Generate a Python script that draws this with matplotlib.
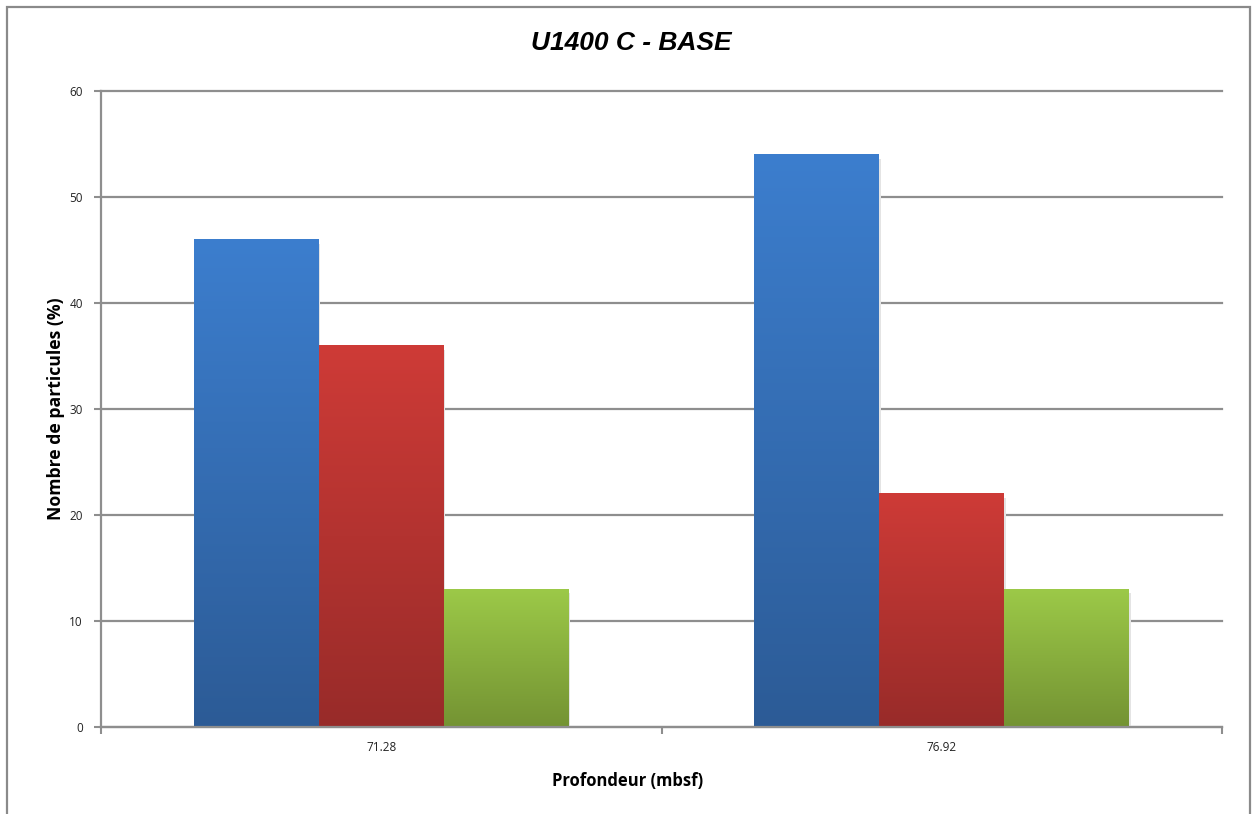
import numpy as np
import matplotlib.pyplot as plt
from matplotlib.patches import Rectangle
from matplotlib.colors import LinearSegmentedColormap

depths = ['71.28', '76.92']
serie_bleue = [46, 54]
serie_rouge = [36, 22]
serie_verte = [13, 13]

# gradient colours (top, bottom) for each series
grad_bleu = ('#3C7ECE', '#2C5B96')
grad_rouge = ('#CE3B37', '#982B29')
grad_vert = ('#9CC948', '#749333')

fig = plt.figure(figsize=(12.52, 8.14), dpi=100)
ax = fig.add_axes([101/1252, 1-727/814, 1121/1252, 636/814])

x = np.arange(len(depths))
w = 0.223
grid_col = '#8E8E8E'

ax.set_xlim(-0.5, 1.5)
ax.set_ylim(0, 60)
ax.set_yticks(range(0, 61, 10))
ax.yaxis.grid(True, color=grid_col, linewidth=1.6)
ax.set_axisbelow(True)

for off, vals, grad in [(-w, serie_bleue, grad_bleu), (0, serie_rouge, grad_rouge), (w, serie_verte, grad_vert)]:
    bars = ax.bar(x + off, vals, width=w, color=grad[1], zorder=2, linewidth=0)
    cmap = LinearSegmentedColormap.from_list('g', [grad[1], grad[0]])
    for b in bars:
        x0, y0 = b.get_x(), b.get_y()
        x1, y1 = x0 + b.get_width(), y0 + b.get_height()
        # soft shadow
        ax.add_patch(Rectangle((x1, y0), 0.003, b.get_height() - 0.4, color='#e4e4e4', zorder=1.5, linewidth=0))
        grad_img = np.linspace(0, 1, 256).reshape(-1, 1)
        ax.imshow(grad_img, cmap=cmap, origin='lower', extent=[x0, x1, y0, y1],
                  aspect='auto', zorder=2.5, interpolation='bicubic')

ax.set_xlim(-0.5, 1.5)
ax.set_ylim(0, 60)
for gl in ax.yaxis.get_gridlines():
    gl.set_clip_on(False)

ax.set_xticks(x)
ax.set_xticklabels(depths)
ax.set_xticks([-0.5, 0.5, 1.5], minor=True)
ax.tick_params(axis='x', which='major', length=0, pad=10, labelsize=8.5, labelcolor='#222222')
ax.tick_params(axis='x', which='minor', length=5, width=1.5, color=grid_col, direction='out')
ax.tick_params(axis='y', length=5, width=1.5, color=grid_col, labelsize=8.5, pad=8, labelcolor='#222222')

for lab in ax.get_xticklabels() + ax.get_yticklabels():
    lab.set_fontfamily('Open Sans')

for s in ['top', 'right']:
    ax.spines[s].set_visible(False)
for s in ['left', 'bottom']:
    ax.spines[s].set_color(grid_col)
    ax.spines[s].set_linewidth(1.6)
ax.spines['bottom'].set_zorder(3)

ax.set_xlabel('Profondeur (mbsf)', fontsize=12, fontweight='bold', fontfamily='Open Sans')
ax.xaxis.set_label_coords((628 - 101) / 1121, -45/636)
ax.set_ylabel('Nombre de particules (%)', fontsize=12.7, fontweight='bold', fontfamily='Open Sans')
ax.yaxis.set_label_coords(-36/1121, 0.5)

fig.text(631/1252, 1-43/814, 'U1400 C - BASE', ha='center', va='center', fontsize=19,
         fontweight='bold', fontstyle='italic', fontfamily='Liberation Sans')

# outer chart frame
fig.patches.append(Rectangle((7/1252, -0.05), 1243/1252, 1.05 - 7/814, transform=fig.transFigure,
                             fill=False, edgecolor='#8A8A8A', linewidth=1.6))

fig.savefig('out.png', dpi=100)
